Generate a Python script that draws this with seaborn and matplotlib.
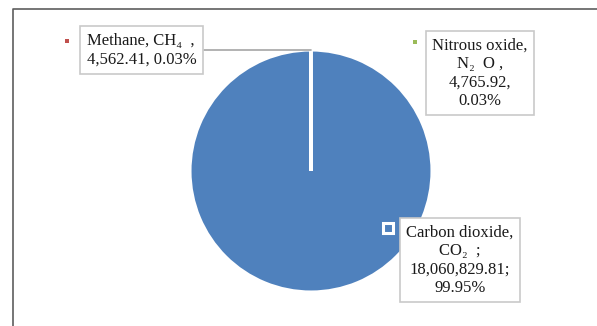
import matplotlib
matplotlib.use("Agg")
import matplotlib.pyplot as plt
from matplotlib.lines import Line2D
import seaborn as sns

# Greenhouse gas emissions (t CO2-eq)
gases = ["Carbon dioxide", "Methane", "Nitrous oxide"]
emissions = [18060829.81, 4562.41, 4765.92]

sns.set_theme(style="white")
plt.rcParams["font.family"] = ["Liberation Serif", "DejaVu Serif"]

palette = sns.color_palette(["#4F81BD", "#C0504D", "#9BBB59"])

W, H = 597, 326
fig = plt.figure(figsize=(W / 100, H / 100), dpi=100)
fig.patch.set_facecolor("white")


def fx(x):
    return x / W


def fy(y):
    return 1 - y / H


# pie centred at (311, 171) px, radius 121 px
cx, cy, r = 311, 171, 121
ax = fig.add_axes([fx(cx - r), fy(cy + r), 2 * r / W, 2 * r / H])
ax.pie(emissions, colors=palette, startangle=90, counterclock=False,
       wedgeprops=dict(edgecolor="white", linewidth=2.2))
ax.set_xlim(-1, 1)
ax.set_ylim(-1, 1)
ax.set_axis_off()

total = sum(emissions)
vals = [f"{v:,.2f}" for v in emissions]
pcts = [f"{v / total * 100:.2f}%" for v in emissions]

co2_label = f"{gases[0]},\nCO\u2082  ;\n{vals[0]};\n{pcts[0]}"
ch4_label = f"{gases[1]}, CH\u2084  ,\n{vals[1]}, {pcts[1]}"
n2o_label = f"{gases[2]},\nN\u2082  O ,\n{vals[2]},\n{pcts[2]}"

box = dict(boxstyle="square,pad=0.4", fc="white", ec="#C9C9C9", lw=1.2)
fs = 12

ax.annotate(ch4_label, xy=(0, 1), xycoords="data",
            xytext=(fx(87), fy(50)), textcoords="figure fraction",
            ha="left", va="center", fontsize=fs, linespacing=1.2,
            color="#1a1a1a", bbox=box, annotation_clip=False, zorder=5,
            arrowprops=dict(arrowstyle="-", color="#A6A6A6", lw=1.2,
                            shrinkA=0, shrinkB=0))

fig.text(fx(480), fy(73), n2o_label, ha="center", va="center", fontsize=fs,
         linespacing=1.2, color="#1a1a1a", bbox=box)
fig.text(fx(460), fy(260), co2_label, ha="center", va="center", fontsize=fs,
         linespacing=1.2, color="#1a1a1a", bbox=box)

# legend keys beside each label
for (x, y), c, ms, ec in [((67, 41), palette[1], 3.0, palette[1]),
                         ((415, 42), palette[2], 3.0, palette[2]),
                         ((388, 228), palette[0], 6.5, "white")]:
    fig.add_artist(Line2D([fx(x)], [fy(y)], marker="s", ms=ms, mfc=c,
                          mec=ec, mew=2.2 if ec == "white" else 0,
                          ls="none", transform=fig.transFigure))

# chart area border
fig.add_artist(Line2D([fx(13), fx(13), 1.02], [-0.02, fy(9), fy(9)],
                      color="#5E5E5E", lw=1.2, transform=fig.transFigure))

fig.savefig("out.png", dpi=100)
